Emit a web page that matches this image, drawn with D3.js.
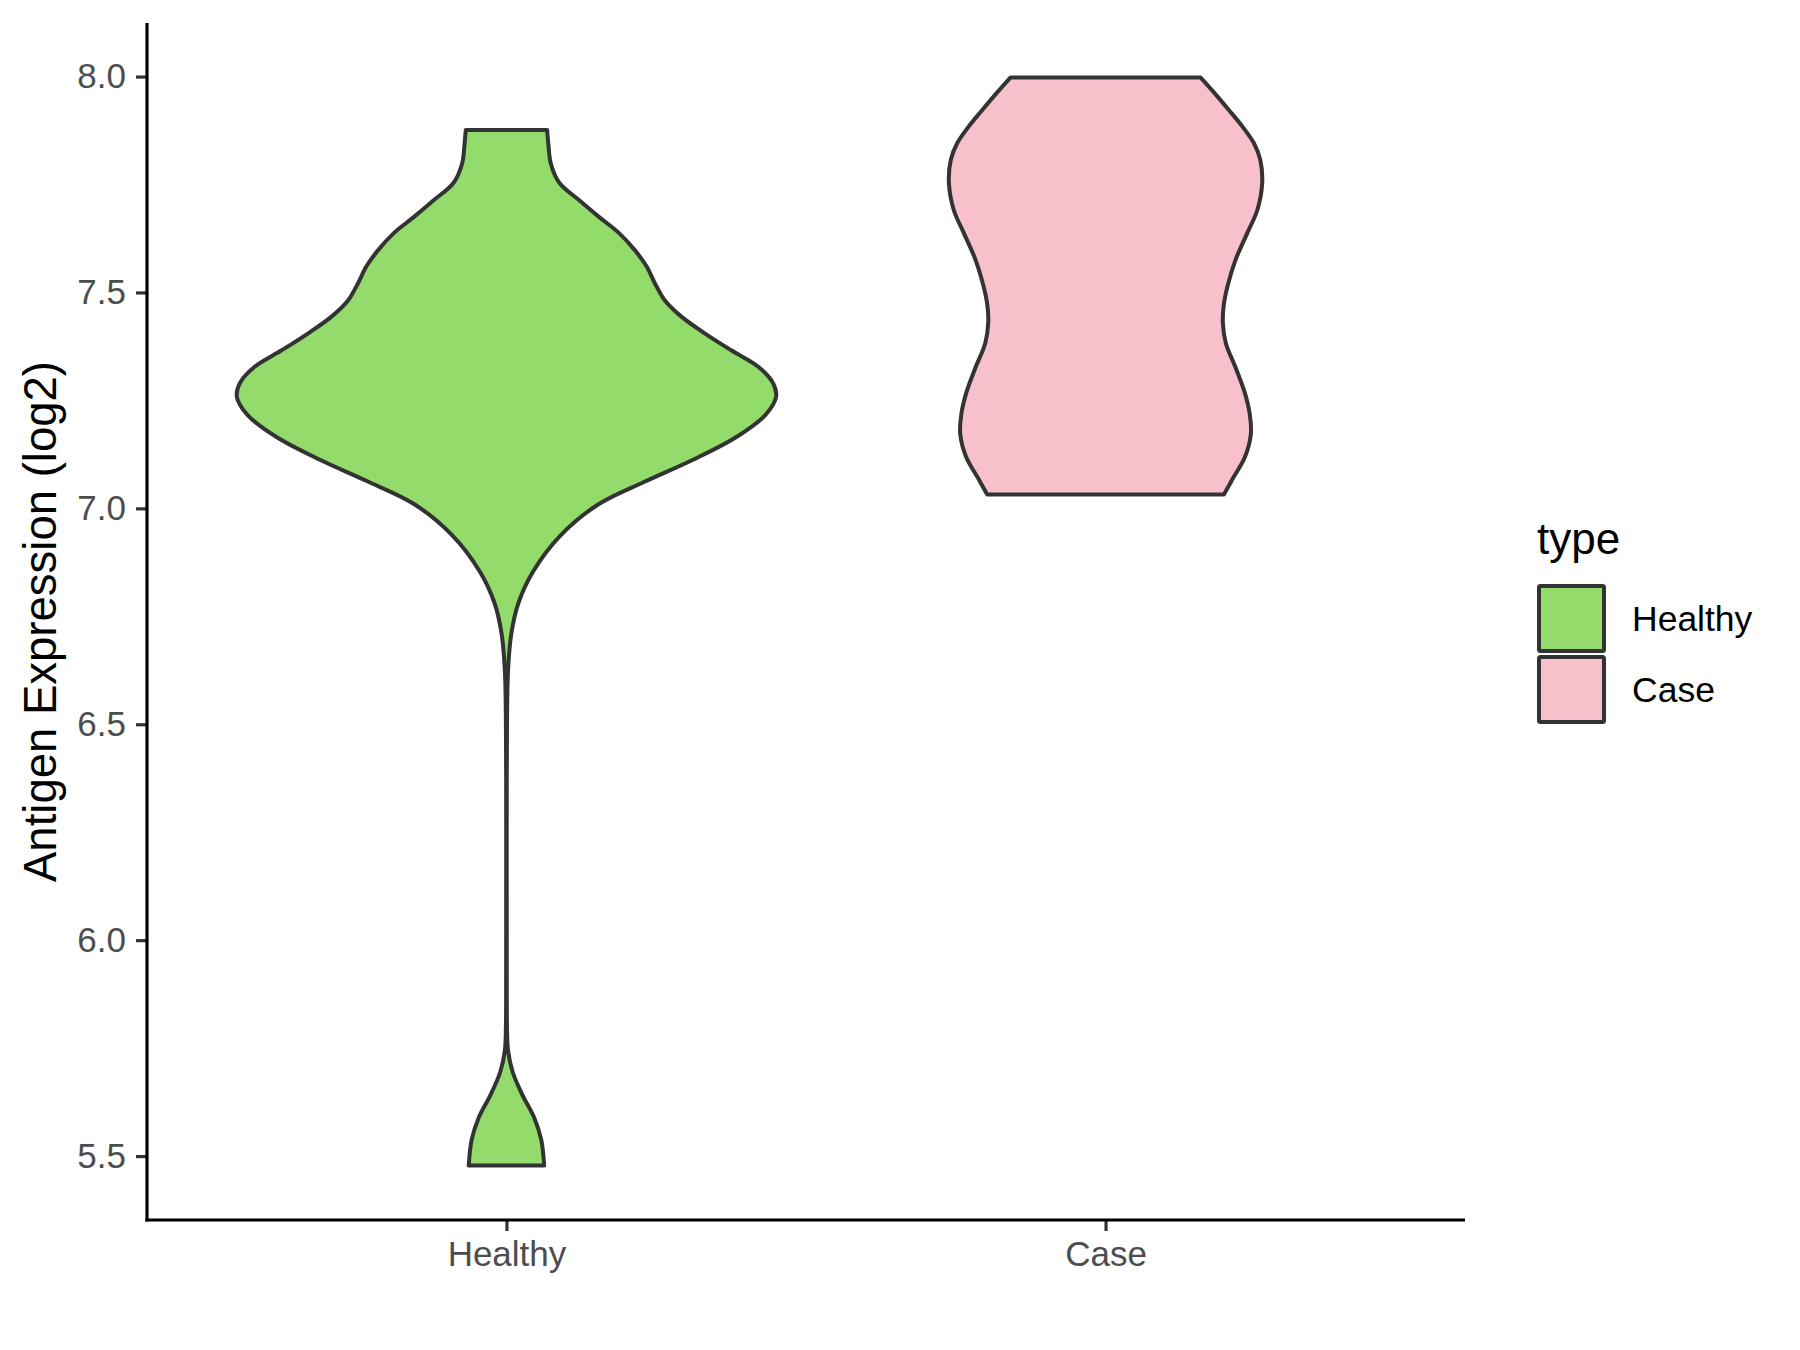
<!DOCTYPE html>
<html>
<head>
<meta charset="utf-8">
<script src="https://cdn.jsdelivr.net/npm/d3@7"></script>
<style>
  body { margin: 0; background: #fff; }
  text { font-family: "Liberation Sans", Arial, sans-serif; }
</style>
</head>
<body>
<div id="chart"></div>
<script>
// categories and fills
const groups = ["Healthy", "Case"];
const groupColors = ["#93DC6B", "#F7C0CB"];

// violin outlines: expression level -> relative density
const healthyLevels = [5.478, 5.538, 5.589, 5.642, 5.693, 5.744, 5.80, 5.90, 6.10, 6.30, 6.50, 6.626,
  6.710, 6.782, 6.855, 6.937, 7.009, 7.061, 7.112, 7.164, 7.216, 7.258, 7.290, 7.328,
  7.366, 7.406, 7.444, 7.482, 7.522, 7.560, 7.598, 7.638, 7.675, 7.714, 7.754, 7.800, 7.840, 7.876];
const healthyDensity = [0.140, 0.129, 0.103, 0.059, 0.024, 0.006, 0.002, 0.0012, 0.001, 0.001, 0.002, 0.006,
  0.018, 0.045, 0.10, 0.20, 0.34, 0.51, 0.69, 0.85, 0.96, 1.00, 0.989, 0.934,
  0.834, 0.734, 0.649, 0.587, 0.550, 0.520, 0.476, 0.417, 0.343, 0.269, 0.196, 0.164, 0.156, 0.151];

const caseLevels = [7.032, 7.069, 7.119, 7.172, 7.218, 7.267, 7.325, 7.383, 7.432, 7.473, 7.513,
  7.575, 7.638, 7.691, 7.753, 7.807, 7.846, 7.884, 7.922, 7.961, 7.998];
const caseDensity = [0.439, 0.472, 0.517, 0.539, 0.535, 0.517, 0.483, 0.446, 0.435, 0.439, 0.452,
  0.482, 0.526, 0.563, 0.581, 0.574, 0.550, 0.508, 0.458, 0.405, 0.352];

const yTicks = [5.5, 6.0, 6.5, 7.0, 7.5, 8.0];

const width = 1800;
const height = 1350;
const panel = { left: 147, top: 23, right: 1465, bottom: 1220 };

const violins = [
  { group: groups[0], color: groupColors[0],
    pts: healthyLevels.map((v, i) => ({ v: v, d: healthyDensity[i] })) },
  { group: groups[1], color: groupColors[1],
    pts: caseLevels.map((v, i) => ({ v: v, d: caseDensity[i] })) }
];

const allLevels = healthyLevels.concat(caseLevels);
const lo = d3.min(allLevels), hi = d3.max(allLevels);
const pad = (hi - lo) * 0.05;

const x = d3.scalePoint()
  .domain(groups)
  .range([panel.left, panel.right])
  .padding(0.6);

const y = d3.scaleLinear()
  .domain([lo - pad, hi + pad])
  .range([panel.bottom, panel.top]);

const maxDens = d3.max(healthyDensity.concat(caseDensity));
const halfW = d3.scaleLinear().domain([0, maxDens]).range([0, x.step() * 0.45]);

const svg = d3.select("#chart")
  .append("svg")
  .attr("width", width)
  .attr("height", height);

// violins
violins.forEach(vl => {
  const cx = x(vl.group);
  const area = d3.area()
    .y(d => y(d.v))
    .x0(d => cx - halfW(d.d))
    .x1(d => cx + halfW(d.d))
    .curve(d3.curveCatmullRom.alpha(0.5));
  svg.append("path")
    .datum(vl.pts)
    .attr("d", area)
    .attr("fill", vl.color)
    .attr("stroke", "#333333")
    .attr("stroke-width", 4)
    .attr("stroke-linejoin", "round");
});

// axes
const yAxis = svg.append("g")
  .attr("transform", "translate(" + panel.left + ",0)")
  .call(d3.axisLeft(y).tickValues(yTicks).tickFormat(d3.format(".1f")).tickSize(11).tickPadding(10).tickSizeOuter(0));

const xAxis = svg.append("g")
  .attr("transform", "translate(0," + panel.bottom + ")")
  .call(d3.axisBottom(x).tickSize(11).tickPadding(10).tickSizeOuter(0));

[yAxis, xAxis].forEach(ax => {
  ax.select(".domain").remove();
  ax.selectAll(".tick line").attr("stroke", "#333333").attr("stroke-width", 3.2);
  ax.selectAll(".tick text")
    .attr("fill", "#4D4D4D")
    .style("font-size", "35px")
    .style("font-family", "'Liberation Sans', Arial, sans-serif");
});

// axis lines
svg.append("line")
  .attr("x1", panel.left).attr("x2", panel.left)
  .attr("y1", panel.top).attr("y2", panel.bottom + 1.6)
  .attr("stroke", "#000").attr("stroke-width", 3.2);
svg.append("line")
  .attr("x1", panel.left - 1.6).attr("x2", panel.right)
  .attr("y1", panel.bottom).attr("y2", panel.bottom)
  .attr("stroke", "#000").attr("stroke-width", 3.2);

// y title
svg.append("text")
  .attr("transform", "translate(56," + ((panel.top + panel.bottom) / 2) + ") rotate(-90)")
  .attr("text-anchor", "middle")
  .style("font-size", "45.5px")
  .attr("fill", "#000")
  .text("Antigen Expression (log2)");

// legend
const legend = svg.append("g").attr("transform", "translate(1537,0)");
legend.append("text")
  .attr("x", 0).attr("y", 554)
  .style("font-size", "44px")
  .attr("fill", "#000")
  .text("type");

const keys = legend.selectAll(".key")
  .data(groups)
  .enter()
  .append("g")
  .attr("class", "key")
  .attr("transform", (d, i) => "translate(0," + (584 + i * 71) + ")");

keys.append("rect")
  .attr("x", 2).attr("y", 2)
  .attr("width", 65).attr("height", 65)
  .attr("rx", 1.5)
  .attr("fill", (d, i) => groupColors[i])
  .attr("stroke", "#333333")
  .attr("stroke-width", 4);

keys.append("text")
  .attr("x", 95).attr("y", 47)
  .style("font-size", "35.5px")
  .attr("fill", "#000")
  .text(d => d);
</script>
</body>
</html>
